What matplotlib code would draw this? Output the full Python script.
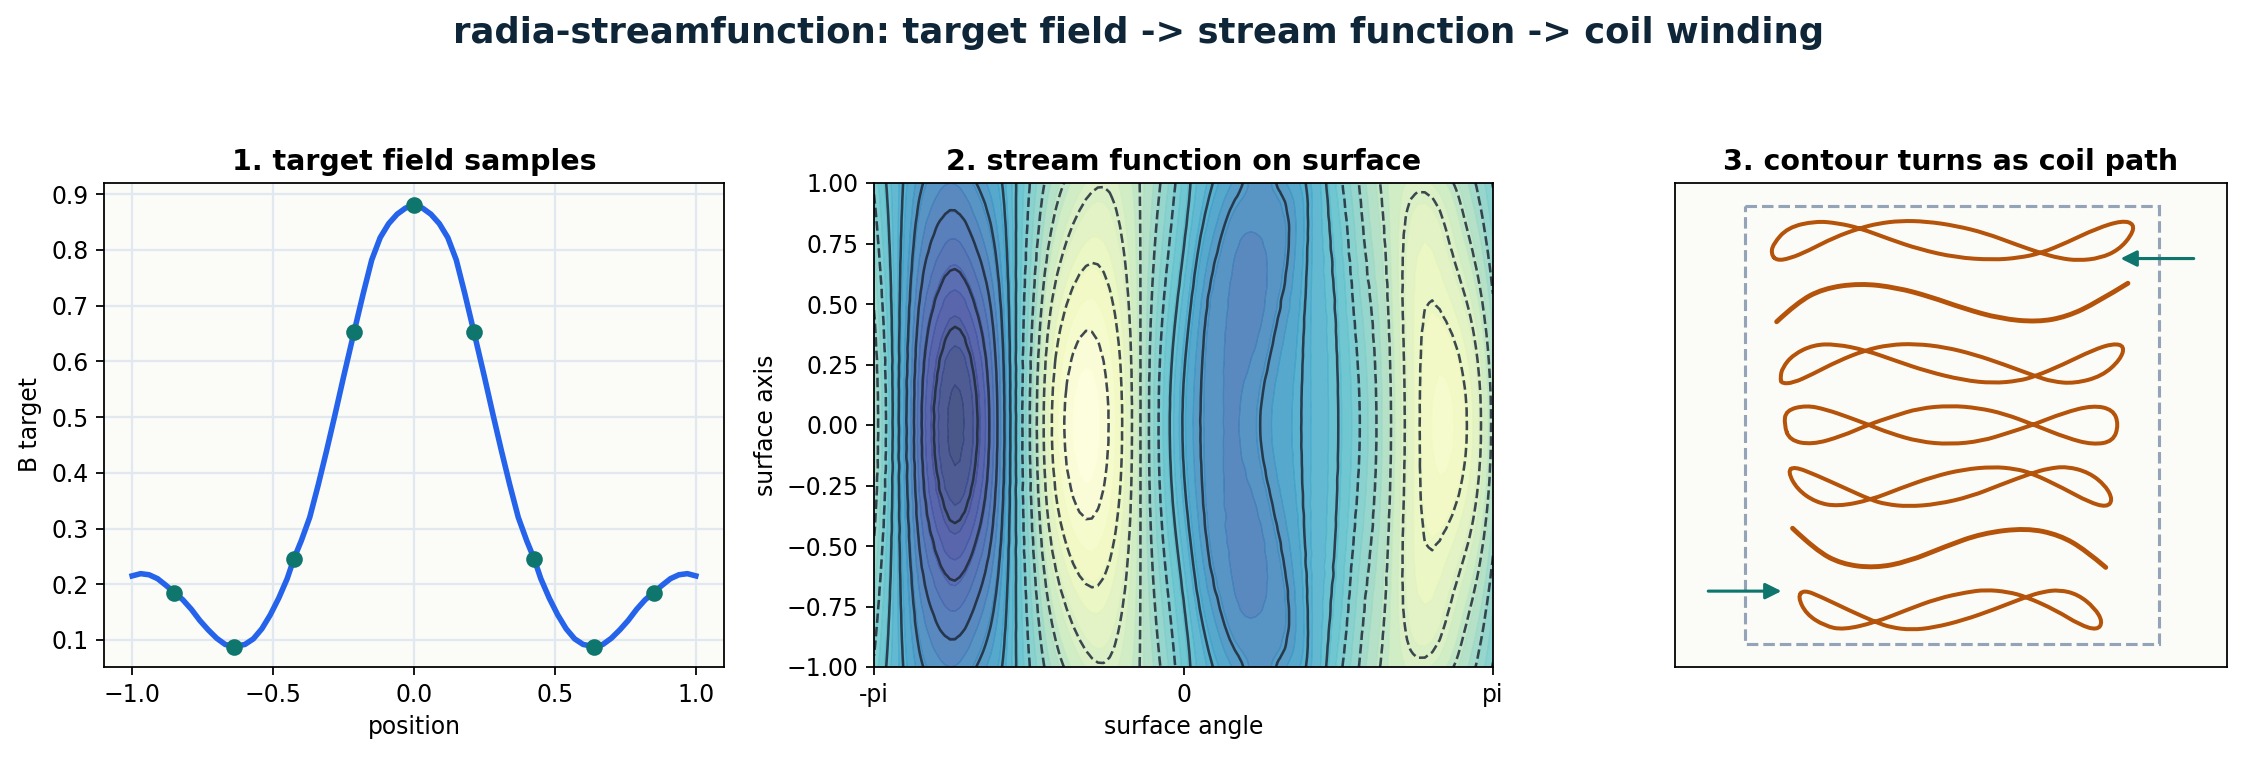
import numpy as np
import matplotlib
matplotlib.use("Agg")
import matplotlib.pyplot as plt
import matplotlib.tri as mtri
from matplotlib.path import Path
from matplotlib.patches import PathPatch, Rectangle

### Data ###
# panel 1, right half of the symmetric curve
curve_x = [0, .03, .06, .09, .12, .15, .18, .213, .25, .28, .31, .34, .37, .40, .426, .45, .48, .51, .54, .57,
           .60, .64, .67, .70, .73, .76, .79, .82, .85, .88, .91, .94, .97, 1.0]
curve_b = [.880, .875, .864, .847, .822, .782, .722, .652, .572, .505, .44, .378, .32, .278, .246, .21, .175, .145, .12, .102,
           .092, .088, .092, .103, .118, .135, .155, .172, .185, .198, .21, .217, .219, .215]
sample_x = [0, .213, .426, .64, .85]
sample_b = [.88, .652, .246, .088, .185]

# panel 2, stream function at these angles, rows from y=0 up to y=1 (mirrored below)
angle = [-3.1416, -3.06, -2.98, -2.90, -2.80, -2.68, -2.52, -2.32, -2.12, -1.98, -1.88, -1.78,
         -1.68, -1.56, -1.42, -1.25, -0.99, -0.75, -0.54, -0.36, -0.14, 0.07, 0.27, 0.47,
         0.68, 0.88, 1.08, 1.28, 1.54, 1.79, 2.05, 2.30, 2.60, 2.86, 3.01, 3.1416]
axis_y = [0, .2, .4, .6, .8, 1.0]
psi_y00 = [-2.6, -1.5, -.45, .85, 2.15, 3.75, 5.1, 5.9, 5.2, 4.1, 2.9, 1.4,
           -.35, -2.0, -4.0, -5.75, -6.75, -5.95, -4.2, -2.1, 0, 1.55, 2.35, 2.6,
           2.2, 1.75, 1.3, .8, .1, -1.0, -2.6, -4.4, -5.7, -5.1, -4.1, -2.8]
psi_y02 = [-2.46, -1.4, -.39, .84, 2.08, 3.6, 4.88, 5.63, 4.95, 3.9, 2.76, 1.34,
           -.33, -1.92, -3.84, -5.52, -6.51, -5.79, -4.13, -2.14, -.11, 1.4, 2.25, 2.65,
           2.6, 1.8, 1.3, .8, .1, -1.08, -2.65, -4.4, -5.55, -4.89, -3.91, -2.65]
psi_y04 = [-2.16, -1.19, -.27, .81, 1.92, 3.26, 4.39, 5.03, 4.38, 3.45, 2.46, 1.19,
           -.3, -1.74, -3.47, -5.0, -5.97, -5.42, -3.98, -2.24, -.36, 1.15, 2.2, 2.68,
           2.83, 2.2, 1.5, .8, .05, -1.27, -2.76, -4.45, -5.15, -4.42, -3.49, -2.32]
psi_y06 = [-1.73, -.89, -.09, .77, 1.69, 2.78, 3.7, 4.19, 3.59, 2.83, 2.03, .99,
           -.25, -1.49, -2.95, -4.27, -5.22, -4.9, -3.77, -2.38, -.71, .75, 2.0, 2.5,
           2.85, 2.5, 1.85, .85, -.1, -1.54, -2.91, -4.45, -4.75, -3.77, -2.9, -1.86]
psi_y08 = [-1.31, -.59, .08, .74, 1.47, 2.31, 3.01, 3.35, 2.81, 2.2, 1.61, .79,
           -.2, -1.24, -2.44, -3.55, -4.47, -4.39, -3.55, -2.52, -1.06, .3, 1.45, 2.25,
           2.6, 2.4, 1.95, .9, -.25, -1.8, -3.06, -4.25, -4.25, -3.12, -2.31, -1.39]
psi_y10 = [-.9, -.3, .25, .7, 1.25, 1.85, 2.35, 2.55, 2.05, 1.6, 1.2, .6,
           -.15, -1.0, -1.95, -2.85, -3.75, -3.9, -3.35, -2.65, -1.4, 0, .9, 1.6,
           2.15, 2.15, 1.55, .85, -.55, -2.05, -3.2, -3.8, -3.5, -2.5, -1.75, -.95]
line_levels = [-6, -5, -4, -3, -2, -1, 0, 1, 2, 3, 4, 5]
fill_levels = np.arange(-6.88, 6.2, .45)

# panel 3, turns as (x, y) in path units, y running downwards
turn1 = [(300, 285), (305, 255), (345, 205), (420, 186), (480, 192), (540, 207), (620, 240), (700, 270), (800, 295), (900, 302),
         (970, 296), (1030, 282), (1100, 250), (1180, 208), (1250, 184), (1282, 195), (1275, 228), (1240, 272), (1190, 297), (1130, 304),
         (1080, 297), (1030, 282), (960, 255), (880, 222), (800, 200), (720, 187), (650, 185), (590, 193), (540, 207), (470, 235),
         (400, 275), (350, 298), (315, 304)]
turn2 = [(315, 487), (370, 430), (440, 388), (540, 372), (640, 385), (730, 412), (820, 447), (920, 478), (1020, 488), (1100, 472), (1180, 430), (1265, 372)]
turn3 = [(325, 655), (330, 625), (360, 585), (415, 556), (475, 554), (555, 572), (640, 605), (720, 635), (820, 662), (900, 671),
         (970, 664), (1015, 650), (1090, 615), (1170, 572), (1225, 552), (1256, 560), (1245, 600), (1195, 650), (1120, 672), (1060, 666),
         (1015, 650), (930, 615), (850, 585), (770, 563), (690, 553), (620, 556), (555, 572), (480, 605), (410, 645), (360, 670), (328, 672)]
turn4 = [(335, 795), (340, 752), (395, 737), (450, 750), (510, 773), (563, 795), (620, 820), (700, 846), (785, 854), (870, 844),
         (940, 820), (1010, 795), (1090, 760), (1170, 737), (1225, 750), (1240, 795), (1225, 845), (1170, 855), (1100, 835), (1010, 795),
         (930, 762), (860, 745), (785, 738), (700, 746), (630, 770), (563, 795), (490, 830), (410, 855), (350, 842)]
turn5 = [(345, 935), (370, 988), (420, 1027), (480, 1040), (570, 1020), (650, 985), (740, 950), (820, 929), (900, 921), (960, 927),
         (1005, 940), (1090, 985), (1160, 1027), (1208, 1042), (1224, 1020), (1205, 978), (1160, 938), (1100, 920), (1050, 926), (1005, 940),
         (920, 975), (840, 1010), (750, 1033), (670, 1040), (610, 1033), (570, 1020), (500, 985), (420, 945), (362, 920)]
turn6 = [(358, 1105), (420, 1170), (490, 1212), (580, 1224), (670, 1205), (770, 1160), (870, 1120), (990, 1104), (1080, 1125), (1150, 1170), (1205, 1222)]
turn7 = [(372, 1310), (395, 1362), (445, 1397), (495, 1409), (583, 1386), (665, 1350), (750, 1315), (830, 1296), (880, 1289), (940, 1295),
         (990, 1310), (1070, 1350), (1135, 1394), (1182, 1410), (1197, 1385), (1175, 1343), (1130, 1303), (1080, 1289), (1035, 1295), (990, 1310),
         (905, 1347), (820, 1380), (740, 1402), (680, 1409), (625, 1402), (583, 1386), (510, 1350), (435, 1310), (388, 1289)]
closed_turns = [turn1, turn3, turn4, turn5, turn7]
open_turns = [turn2, turn6]

### Style ###
BG = "#fbfcf7"
BLUE = "#2563eb"
TEAL = "#0f766e"
ORANGE = "#b45309"
W, H = 2243, 758
DPI = 160
plt.rcParams.update({"font.size": 10.6, "xtick.labelsize": 10.6, "ytick.labelsize": 10.6, "axes.labelsize": 10.6})


def axes_box(left, top, right, bottom):
    return [left / W, 1 - bottom / H, (right - left) / W, (bottom - top) / H]


def smooth_path(points, closed):
    # quadratic spline through midpoints of the read points
    pts = np.array(points, dtype=float)
    if closed:
        start = (pts[-1] + pts[0]) / 2
        verts = [start]
        codes = [Path.MOVETO]
        for i in range(len(pts)):
            verts += [pts[i], (pts[i] + pts[(i + 1) % len(pts)]) / 2]
            codes += [Path.CURVE3, Path.CURVE3]
    else:
        verts = [pts[0]]
        codes = [Path.MOVETO]
        for i in range(1, len(pts) - 1):
            end = pts[-1] if i == len(pts) - 2 else (pts[i] + pts[i + 1]) / 2
            verts += [pts[i], end]
            codes += [Path.CURVE3, Path.CURVE3]
    return Path(verts, codes)


fig = plt.figure(figsize=(W / DPI, H / DPI), dpi=DPI)
fig.suptitle("radia-streamfunction: target field -> stream function -> coil winding",
             x=1139 / W, y=1 - 33 / H, va="center", fontsize=15.9, fontweight="bold", color="#0f2538")

### Panel 1 ###
ax1 = fig.add_axes(axes_box(104, 183, 724, 667))
half_x = np.array(curve_x)
half_b = np.array(curve_b)
ax1.plot(np.r_[-half_x[:0:-1], half_x], np.r_[half_b[:0:-1], half_b], color=BLUE, lw=2.5, zorder=2)
dots_x = np.array(sample_x)
dots_b = np.array(sample_b)
ax1.scatter(np.r_[-dots_x[:0:-1], dots_x], np.r_[dots_b[:0:-1], dots_b], s=42, color=TEAL, zorder=3)
ax1.set_facecolor(BG)
ax1.grid(color="#e2e8f0", lw=1)
ax1.set_axisbelow(True)
ax1.set_xlim(-1.1, 1.1)
ax1.set_ylim(.0515, .92)
ax1.set_xticks([-1, -.5, 0, .5, 1])
ax1.set_xlabel("position")
ax1.set_ylabel("B target")
ax1.set_title("1. target field samples", fontsize=12.85, fontweight="bold")

### Panel 2 ###
ax2 = fig.add_axes(axes_box(874, 183, 1493, 667))
rows = np.array([psi_y00, psi_y02, psi_y04, psi_y06, psi_y08, psi_y10])
# even polynomial per column so the closed contours stay smooth between the read rows
powers = np.array(axis_y)[:, None] ** np.array([0, 2, 4, 6])
coef = np.linalg.lstsq(powers, rows, rcond=None)[0]
ys = np.linspace(-1, 1, 41)
psi = (ys[:, None] ** np.array([0, 2, 4, 6])) @ coef
X, Y = np.meshgrid(angle, ys)
grid = mtri.Triangulation(X.ravel(), Y.ravel())
interp = mtri.CubicTriInterpolator(grid, psi.ravel(), kind="min_E")
fine_grid, fine_psi = mtri.UniformTriRefiner(grid).refine_field(psi.ravel(), triinterpolator=interp, subdiv=2)
ax2.tricontourf(fine_grid, fine_psi, levels=fill_levels, cmap="YlGnBu", alpha=.75, extend="both", antialiased=True)
# band edges show as thin lines in the original
ax2.tricontour(fine_grid, fine_psi, levels=fill_levels, cmap="YlGnBu", linewidths=.55, alpha=.55, linestyles="solid")
ax2.tricontour(fine_grid, fine_psi, levels=line_levels, colors="#1f2937", linewidths=1.15, alpha=.85)
ax2.set_xlim(-np.pi, np.pi)
ax2.set_ylim(-1, 1)
ax2.set_xticks([-np.pi, 0, np.pi], ["-pi", "0", "pi"])
ax2.set_yticks(np.arange(-1, 1.01, .25))
ax2.set_xlabel("surface angle")
ax2.set_ylabel("surface axis")
ax2.set_title("2. stream function on surface", fontsize=12.85, fontweight="bold")

### Panel 3 ###
ax3 = fig.add_axes(axes_box(1675, 183, 2227, 667))
ax3.set_facecolor(BG)
ax3.set_xlim(40, 1533)
ax3.set_ylim(1520, 72)
ax3.set_xticks([])
ax3.set_yticks([])
ax3.add_patch(Rectangle((228, 142), 1121, 1310, fill=False, ec="#94a3b8", lw=1.4, ls="--"))
for turn in closed_turns:
    ax3.add_patch(PathPatch(smooth_path(turn, True), fill=False, ec=ORANGE, lw=1.8, capstyle="round"))
for turn in open_turns:
    ax3.add_patch(PathPatch(smooth_path(turn, False), fill=False, ec=ORANGE, lw=2.2, capstyle="round"))
arrow = dict(arrowstyle="-|>", color=TEAL, lw=1.4, mutation_scale=15, shrinkA=0, shrinkB=0)
ax3.annotate("", xy=(1245, 298), xytext=(1443, 298), arrowprops=arrow)
ax3.annotate("", xy=(328, 1293), xytext=(130, 1293), arrowprops=arrow)
ax3.set_title("3. contour turns as coil path", fontsize=12.85, fontweight="bold")

fig.savefig("out.png", dpi=DPI)
